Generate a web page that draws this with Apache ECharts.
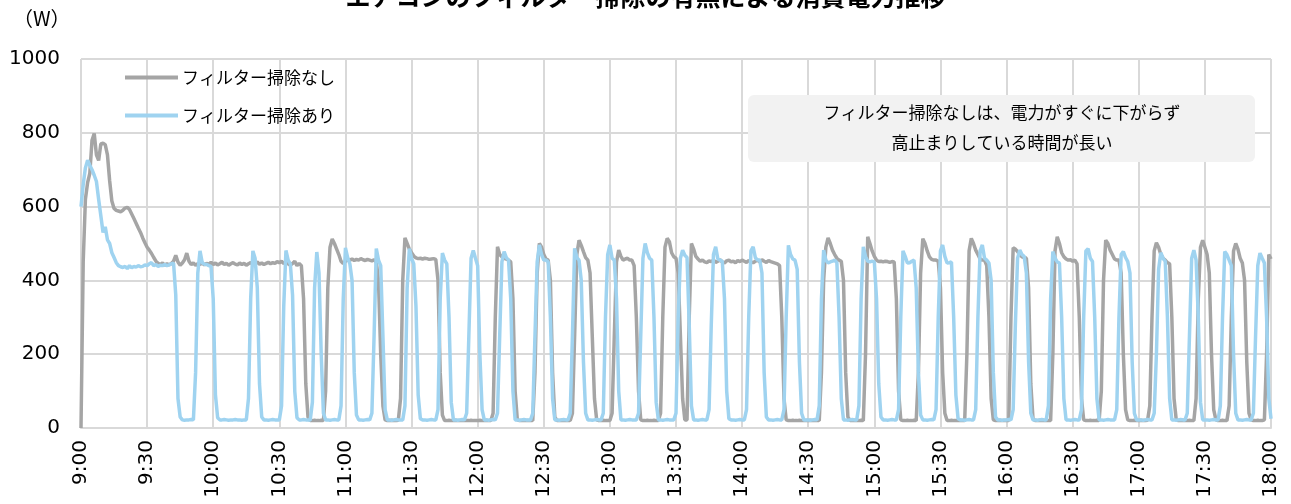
<!DOCTYPE html>
<html>
<head>
<meta charset="utf-8">
<script src="https://cdn.jsdelivr.net/npm/echarts@6/dist/echarts.min.js"></script>
<style>
  html, body { margin: 0; padding: 0; background: #fff; }
  #main { width: 1291px; height: 504px; }
</style>
</head>
<body>
<div id="main"></div>
<script>
// 1-minute samples from 9:00 (index 0) to 18:00 (index 540), in W
const seriesNames = ['フィルター掃除なし', 'フィルター掃除あり']

const noCleaning = [
  0,450,620,665,690,780,798,740,725,770,772,768,740,670,615,595,590,588,586,590,596,598,592,580,568,555,542,530,515,502,
  490,482,473,462,452,446,443,447,441,445,442,446,452,468,450,441,447,456,474,452,443,447,441,445,443,448,442,446,444,449,
  443,447,442,445,449,443,446,441,445,448,444,442,447,443,446,441,445,448,443,446,450,444,447,443,446,449,445,448,446,451,
  448,452,446,449,445,441,446,452,440,446,440,350,120,30,20,20,21,20,20,21,20,100,380,490,512,500,485,470,452,446,
  452,456,455,458,454,457,455,459,456,454,457,455,453,456,450,400,200,60,22,20,20,21,20,20,21,80,400,515,500,485,
  475,466,461,459,460,458,460,459,457,458,459,457,400,150,35,20,20,21,20,20,21,20,20,20,21,20,20,21,20,20,
  20,21,20,20,21,20,20,40,300,491,470,464,460,458,455,450,350,100,22,20,20,21,20,20,21,20,150,420,500,490,
  470,458,455,400,150,30,20,20,21,20,20,21,20,40,250,470,509,495,478,462,455,420,250,80,22,20,20,21,20,20,
  20,40,250,450,482,465,455,458,460,455,455,440,300,100,22,20,20,21,20,20,21,20,20,40,300,490,514,505,475,464,
  460,420,250,80,22,22,300,500,485,465,458,452,455,450,448,453,451,455,449,452,456,450,447,453,455,450,452,448,454,451,
  455,452,449,454,450,448,452,455,450,456,452,449,454,451,449,447,445,440,300,80,22,20,20,21,20,20,21,20,20,20,
  20,21,20,20,21,20,150,400,490,515,500,482,470,460,455,452,400,150,30,20,20,21,20,20,21,20,200,518,500,480,
  465,455,451,452,450,452,451,449,451,450,350,100,22,20,20,21,20,20,21,20,150,420,513,500,480,464,457,455,455,452,
  380,150,40,20,20,21,20,20,21,20,20,20,200,480,514,500,482,470,458,455,455,440,300,80,22,20,20,21,20,20,
  20,20,300,488,485,478,470,464,462,460,380,120,25,20,20,21,20,20,21,20,20,200,480,518,500,475,464,458,455,456,
  452,455,445,300,80,22,20,20,21,20,20,21,20,100,400,509,500,482,470,458,455,455,420,200,50,22,20,20,21,20,
  20,21,20,20,21,60,300,480,502,490,470,460,455,448,445,300,80,22,20,20,21,20,20,21,20,20,80,350,490,509,
  490,470,420,200,50,22,20,20,21,20,20,60,300,480,500,485,460,447,400,180,40,22,20,20,21,20,20,22,200,470,458
]

const withCleaning = [
  600,660,705,726,712,700,685,668,620,575,530,545,510,500,475,462,448,440,437,435,438,432,440,434,438,436,440,437,438,442,
  440,445,448,440,443,438,441,440,443,440,442,445,447,360,80,30,22,21,22,22,23,22,150,420,480,448,444,443,440,438,
  350,90,28,22,22,23,22,21,22,22,23,22,22,21,22,22,80,350,480,460,380,120,30,22,22,21,22,23,22,22,
  22,60,330,481,455,445,360,100,28,22,22,23,22,22,21,70,380,477,420,200,40,22,22,21,22,23,22,22,60,350,
  488,462,445,400,150,35,22,22,21,22,23,22,40,250,486,455,440,250,50,22,22,21,22,23,22,22,22,60,380,486,
  460,445,330,90,25,22,22,21,22,23,22,22,50,350,474,455,445,300,70,22,22,21,22,23,22,40,250,460,481,460,
  440,200,50,22,22,21,22,23,22,40,250,450,478,462,455,350,100,22,22,21,22,23,22,22,22,40,250,450,496,470,
  455,455,450,300,80,22,22,21,22,23,22,22,40,250,487,462,455,400,180,40,22,22,21,22,23,22,22,40,300,470,
  496,460,455,350,100,22,22,21,22,23,22,22,22,40,250,460,500,475,460,455,300,70,22,22,21,22,23,22,22,22,
  40,300,460,482,468,462,280,60,22,22,21,22,23,22,22,50,280,470,491,458,455,452,350,100,25,22,22,21,22,23,
  22,22,50,300,480,491,462,455,455,420,150,30,22,22,21,22,23,22,22,50,300,495,470,458,455,430,180,40,22,22,
  22,21,22,23,22,60,350,482,455,447,450,452,455,448,300,80,22,22,21,22,23,22,22,60,350,491,465,452,450,452,
  450,350,120,30,22,22,21,22,23,22,22,50,300,480,465,447,448,452,455,380,150,35,22,22,21,22,23,22,50,300,
  480,496,465,447,448,450,300,90,25,22,22,21,22,23,22,22,50,300,480,496,460,455,447,400,150,30,22,22,21,22,
  22,23,22,50,280,460,482,470,465,420,180,40,22,22,21,22,23,22,22,60,350,478,460,450,447,300,80,22,22,21,
  22,23,22,22,50,300,480,486,460,451,300,80,22,22,21,22,23,22,22,22,50,300,470,478,462,451,420,180,40,22,
  22,22,21,22,23,22,22,40,200,430,475,460,452,300,80,22,22,21,22,23,22,22,40,250,460,482,455,300,70,22,
  22,22,21,22,23,22,22,60,300,478,470,455,440,200,40,22,22,21,22,23,22,22,40,250,440,474,460,447,300,80,25
]

const timeLabels = ['9:00','9:30','10:00','10:30','11:00','11:30','12:00','12:30','13:00','13:30',
  '14:00','14:30','15:00','15:30','16:00','16:30','17:00','17:30','18:00']
const yTicks = [0, 200, 400, 600, 800, 1000]

const numFont = 'DejaVu Sans'
const jpFont = '"Noto Sans CJK JP"'

let mychart = echarts.init(document.getElementById('main'))
let option = {
  animation: false,
  title: {
    text: 'エアコンのフィルター掃除の有無による消費電力推移',
    left: 'center',
    top: -21,
    textStyle: { fontFamily: jpFont, fontSize: 25, fontWeight: 'bold', color: '#000' }
  },
  legend: {
    data: seriesNames,
    orient: 'vertical',
    left: 125,
    top: 69,
    padding: 0,
    itemWidth: 53,
    itemHeight: 4,
    itemGap: 21,
    icon: 'rect',
    textStyle: { fontFamily: jpFont, fontSize: 17, color: '#000', padding: [0, 0, 0, -1] }
  },
  grid: { left: 81, right: 20, top: 59, bottom: 76 },
  xAxis: {
    type: 'value',
    min: 0,
    max: 540,
    interval: 30,
    axisLine: { lineStyle: { color: '#d9d9d9', width: 2 } },
    axisTick: { show: false },
    splitLine: { lineStyle: { color: '#d9d9d9', width: 2 } },
    axisLabel: {
      rotate: 90,
      margin: 12,
      fontFamily: numFont,
      fontSize: 20,
      color: '#000',
      formatter: v => timeLabels[v / 30]
    }
  },
  yAxis: {
    type: 'value',
    min: yTicks[0],
    max: yTicks[yTicks.length - 1],
    interval: 200,
    axisLine: { show: false },
    axisTick: { show: false },
    splitLine: { lineStyle: { color: '#d9d9d9', width: 2 } },
    axisLabel: {
      margin: 21,
      fontFamily: numFont,
      fontSize: 20,
      color: '#000',
      formatter: v => String(v)
    }
  },
  graphic: [
    {
      type: 'text',
      left: 13,
      top: 8,
      style: { text: '（W）', font: '20px "Noto Sans CJK JP"', fill: '#000' }
    },
    {
      type: 'rect',
      shape: { x: 748, y: 95, width: 507, height: 67, r: 6 },
      style: { fill: '#f2f2f2' },
      z: 5
    },
    {
      type: 'text',
      x: 1002,
      y: 128,
      z: 6,
      style: {
        text: 'フィルター掃除なしは、電力がすぐに下がらず\n高止まりしている時間が長い',
        font: '17px "Noto Sans CJK JP"',
        fill: '#000',
        align: 'center',
        verticalAlign: 'middle',
        lineHeight: 30
      }
    }
  ],
  series: [
    {
      name: seriesNames[0],
      type: 'line',
      data: noCleaning.map((v, i) => [i, v]),
      showSymbol: false,
      lineStyle: { color: '#a5a5a5', width: 3.5 },
      itemStyle: { color: '#a5a5a5' }
    },
    {
      name: seriesNames[1],
      type: 'line',
      data: withCleaning.map((v, i) => [i, v]),
      showSymbol: false,
      lineStyle: { color: '#9fd3f0', width: 3.5 },
      itemStyle: { color: '#9fd3f0' }
    }
  ]
}
mychart.setOption(option)
</script>
</body>
</html>
